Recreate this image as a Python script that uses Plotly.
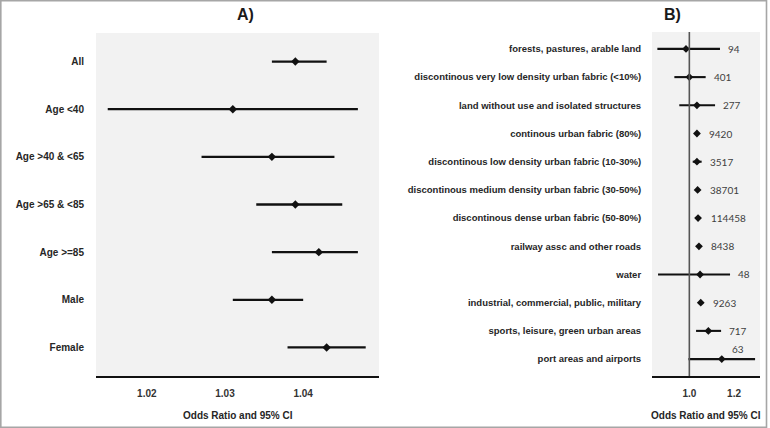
import plotly.graph_objects as go

# ---- Panel A data ----
a_labels = ["All", "Age <40", "Age >40 & <65", "Age >65 & <85", "Age >=85", "Male", "Female"]
a_or = [1.039, 1.031, 1.036, 1.039, 1.042, 1.036, 1.043]
a_lo = [1.036, 1.015, 1.027, 1.034, 1.036, 1.031, 1.038]
a_hi = [1.043, 1.047, 1.044, 1.045, 1.047, 1.040, 1.048]
a_ticks = [1.02, 1.03, 1.04]

# ---- Panel B data ----
b_labels = [
    "forests, pastures, arable land",
    "discontinous very low density urban fabric (<10%)",
    "land without use and isolated structures",
    "continous urban fabric (80%)",
    "discontinous low density urban fabric (10-30%)",
    "discontinous medium density urban fabric (30-50%)",
    "discontinous dense urban fabric (50-80%)",
    "railway assc and other roads",
    "water",
    "industrial, commercial, public, military",
    "sports, leisure, green urban areas",
    "port areas and airports",
]
b_or = [0.985, 1.000, 1.034, 1.034, 1.034, 1.037, 1.039, 1.043, 1.048, 1.051, 1.085, 1.145]
b_lo = [0.857, 0.933, 0.955, 1.026, 1.015, 1.031, 1.035, 1.035, 0.860, 1.043, 1.030, 0.996]
b_hi = [1.137, 1.073, 1.115, 1.042, 1.055, 1.043, 1.043, 1.051, 1.182, 1.059, 1.142, 1.294]
b_n = ["94", "401", "277", "9420", "3517", "38701", "114458", "8438", "48", "9263", "717", "63"]
b_ticks = [1.0, 1.2]

W, H = 770, 428
FONT = "Liberation Sans, Arial, sans-serif"

def px(x):
    return x / W

def py(y):
    return 1 - y / H

fig = go.Figure()

ya = list(range(len(a_labels)))
fig.add_trace(go.Scatter(
    x=a_or, y=ya, mode="markers", xaxis="x", yaxis="y",
    marker=dict(symbol="diamond", size=6.5, color="#111111"),
    error_x=dict(type="data", symmetric=False,
                 array=[h - o for h, o in zip(a_hi, a_or)],
                 arrayminus=[o - l for o, l in zip(a_or, a_lo)],
                 color="#111111", thickness=2.3, width=0),
    showlegend=False, hoverinfo="skip",
))

yb = list(range(len(b_labels)))
fig.add_trace(go.Scatter(
    x=b_or, y=yb, mode="markers", xaxis="x2", yaxis="y2",
    marker=dict(symbol="diamond", size=6, color="#111111"),
    error_x=dict(type="data", symmetric=False,
                 array=[h - o for h, o in zip(b_hi, b_or)],
                 arrayminus=[o - l for o, l in zip(b_or, b_lo)],
                 color="#111111", thickness=2.1, width=0),
    showlegend=False, hoverinfo="skip",
))

annotations = []
xr_b = [0.833, 1.316]
for i, (o, h, n) in enumerate(zip(b_or, b_hi, b_n)):
    x = max(h, o + 0.02)
    if x > 1.25:
        annotations.append(dict(x=h, y=i, xref="x2", yref="y2", text=n, showarrow=False,
                                xanchor="right", yanchor="bottom", xshift=-9, yshift=2,
                                font=dict(family="Lato, sans-serif", size=10, color="#404040")))
    else:
        annotations.append(dict(x=x, y=i, xref="x2", yref="y2", text=n, showarrow=False,
                                xanchor="left", yanchor="middle", xshift=6,
                                font=dict(family="Lato, sans-serif", size=10, color="#404040")))

annotations += [
    dict(x=px(245), y=py(15), xref="paper", yref="paper", text="A)", showarrow=False,
         xanchor="center", yanchor="middle",
         font=dict(family=FONT, size=16, color="#1a1a1a", weight="bold")),
    dict(x=px(672), y=py(15), xref="paper", yref="paper", text="B)", showarrow=False,
         xanchor="center", yanchor="middle",
         font=dict(family=FONT, size=16, color="#1a1a1a", weight="bold")),
    dict(x=px(237.5), y=py(415), xref="paper", yref="paper", text="Odds Ratio and 95% CI",
         showarrow=False, xanchor="center", yanchor="middle",
         font=dict(family=FONT, size=10, color="#262626", weight="bold")),
    dict(x=px(706), y=py(415), xref="paper", yref="paper", text="Odds Ratio and 95% CI",
         showarrow=False, xanchor="center", yanchor="middle",
         font=dict(family=FONT, size=10, color="#262626", weight="bold")),
]

shapes = [
    dict(type="line", xref="x2", yref="y2 domain", x0=1.0, x1=1.0, y0=0, y1=1,
         line=dict(color="#555555", width=1.6), layer="above"),
    dict(type="rect", xref="paper", yref="paper", x0=px(0.8), x1=px(766.5), y0=py(427.2), y1=py(0.8),
         line=dict(color="#a6a6a6", width=1.6)),
]

tickfont = dict(family=FONT, size=10, color="#333333", weight="bold")
labfont = dict(family=FONT, size=10, color="#262626", weight="bold")

fig.update_layout(
    width=W, height=H,
    margin=dict(l=0, r=0, t=0, b=0),
    paper_bgcolor="white",
    plot_bgcolor="#f2f2f2",
    showlegend=False,
    xaxis=dict(domain=[px(96), px(379)], range=[1.0135, 1.0497], anchor="y",
               tickvals=a_ticks, ticktext=[f"{t:.2f}" for t in a_ticks],
               showgrid=False, zeroline=False, showline=True, linecolor="#111111", linewidth=2,
               ticks="outside", ticklen=7, tickcolor="rgba(0,0,0,0)", tickfont=tickfont, automargin=False),
    yaxis=dict(domain=[py(376), py(33)], range=[6.6, -0.6], anchor="x",
               tickvals=ya, ticktext=a_labels, showgrid=False, zeroline=False, showline=False,
               ticks="outside", ticklen=9, tickcolor="rgba(0,0,0,0)", tickfont=labfont, automargin=False),
    xaxis2=dict(domain=[px(652), px(760)], range=xr_b, anchor="y2",
                tickvals=b_ticks, ticktext=[f"{t:.1f}" for t in b_ticks],
                showgrid=False, zeroline=False, showline=True, linecolor="#111111", linewidth=2,
                ticks="outside", ticklen=7, tickcolor="rgba(0,0,0,0)", tickfont=tickfont, automargin=False),
    yaxis2=dict(domain=[py(376), py(32)], range=[11.6, -0.6], anchor="x2",
                tickvals=yb, ticktext=b_labels, showgrid=False, zeroline=False, showline=False,
                ticks="outside", ticklen=8, tickcolor="rgba(0,0,0,0)",
                tickfont=dict(family=FONT, size=9.5, color="#262626", weight="bold"), automargin=False),
    annotations=annotations,
    shapes=shapes,
)

fig.write_html("out.html", config={"displayModeBar": False},
               post_script="document.body.style.margin='0';document.body.style.padding='0';")
